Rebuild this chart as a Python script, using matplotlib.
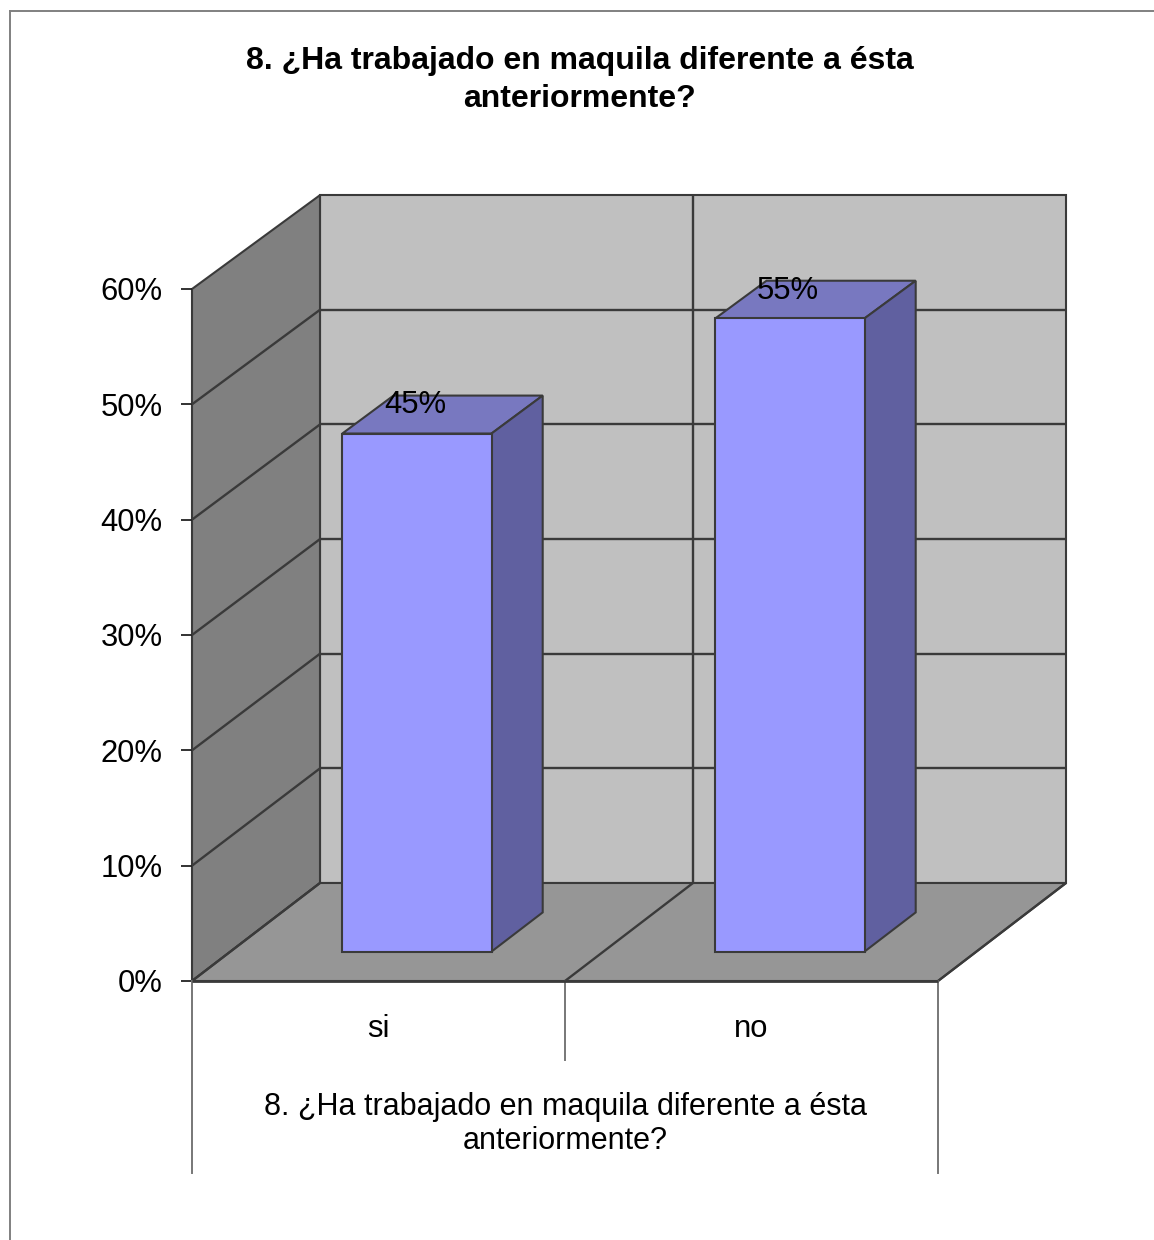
import matplotlib
matplotlib.use("Agg")
import matplotlib.pyplot as plt
from matplotlib.lines import Line2D
from matplotlib.patches import Polygon

plt.rcParams['font.family'] = ['Liberation Sans', 'DejaVu Sans']

# Data
categories = ['si', 'no']
values = [45, 55]
value_labels = ['45%', '55%']
y_ticks = [0, 10, 20, 30, 40, 50, 60]
y_tick_labels = ['0%', '10%', '20%', '30%', '40%', '50%', '60%']
title = '8. ¿Ha trabajado en maquila diferente a ésta\nanteriormente?'
group_label = '8. ¿Ha trabajado en maquila diferente a ésta\nanteriormente?'

W, H = 1154, 1240
DPI = 100

# Oblique projection: depth 1 moves this far in category / percent units
DEPTH_X = 128 / 373
DEPTH_Y = 98 / 11.533
# heights shrink a little towards the back wall
DEPTH_SHRINK = 0.006
Y_MAX = 60

BACK_WALL = '#c0c0c0'
SIDE_WALL = '#808080'
FLOOR = '#969696'
BAR_FRONT = '#9999ff'
BAR_TOP = '#7878c0'
BAR_SIDE = '#6060a0'
LINE = '#3a3a3a'


def proj(x, y, d=0.0):
    return x + d * DEPTH_X, y * (1 - DEPTH_SHRINK * d) + d * DEPTH_Y


def face(ax, pts, color, zorder=1):
    ax.add_patch(Polygon([proj(*p) for p in pts], closed=True, facecolor=color,
                         edgecolor=LINE, linewidth=1.5, clip_on=False, zorder=zorder))


def seg(ax, p0, p1, zorder=2, color=LINE, lw=1.7):
    a, b = proj(*p0), proj(*p1)
    ax.plot([a[0], b[0]], [a[1], b[1]], color=color, lw=lw, clip_on=False,
            solid_capstyle='butt', zorder=zorder)


def draw_bar(ax, center, value, width=0.4, d0=0.3, d1=0.7):
    x0, x1 = center - width / 2, center + width / 2
    face(ax, [(x0, value, d0), (x1, value, d0), (x1, value, d1), (x0, value, d1)], BAR_TOP, 4)
    face(ax, [(x1, 0, d0), (x1, 0, d1), (x1, value, d1), (x1, value, d0)], BAR_SIDE, 4)
    face(ax, [(x0, 0, d0), (x1, 0, d0), (x1, value, d0), (x0, value, d0)], BAR_FRONT, 5)


fig = plt.figure(figsize=(W / DPI, H / DPI), dpi=DPI, facecolor='white')
ax = fig.add_axes([192 / W, 1 - 981 / H, (938 - 192) / W, (981 - 289) / H])
ax.set_xlim(0, len(categories))
ax.set_ylim(0, Y_MAX)
ax.patch.set_alpha(0)
for s in ax.spines.values():
    s.set_visible(False)
ax.set_xticks([])
ax.set_yticks(y_ticks, y_tick_labels)
ax.tick_params(axis='y', length=8, width=1.3, color='#222222', labelsize=22.3, pad=13)

n = len(categories)
# walls and floor
face(ax, [(0, 0, 1), (n, 0, 1), (n, Y_MAX, 1), (0, Y_MAX, 1)], BACK_WALL)
face(ax, [(0, 0, 0), (0, 0, 1), (0, Y_MAX, 1), (0, Y_MAX, 0)], SIDE_WALL)
face(ax, [(0, 0, 0), (n, 0, 0), (n, 0, 1), (0, 0, 1)], FLOOR)

# gridlines run along the side wall and the back wall
for t in y_ticks[1:-1]:
    seg(ax, (0, t, 0), (0, t, 1))
    seg(ax, (0, t, 1), (n, t, 1))
seg(ax, (0, 0, 0), (0, 0, 1))
seg(ax, (n, 0, 0), (n, 0, 1))
seg(ax, (0, 0, 0), (n, 0, 0), lw=2.0, zorder=6)
for i in range(1, n):
    seg(ax, (i, 0, 0), (i, 0, 1))
    seg(ax, (i, 0, 1), (i, Y_MAX, 1))

for i, v in enumerate(values):
    draw_bar(ax, i + 0.5, v)
    lx, _ = proj(i + 0.5, v, 0.3)
    _, ly = proj(i + 0.5, v, 0.7)
    ax.text(lx - 0.005, ly - 0.85, value_labels[i], ha='center', va='center', fontsize=22.3,
            color='black', zorder=7, clip_on=False)

# multi-level category table below the floor
to_y = lambda py: (981 - py) / 11.533
for x, bottom in [(0, 1173), (1, 1060), (2, 1173)]:
    ax.plot([x, x], [0, to_y(bottom)], color='#777777', lw=1.4, clip_on=False, zorder=2)
for i, c in enumerate(categories):
    ax.text(i + 0.5, to_y(1029), c, ha='center', va='center', fontsize=22.3, clip_on=False)
ax.text(1, to_y(1124), group_label, ha='center', va='center', fontsize=22,
        linespacing=1.18, clip_on=False)

fig.text(580 / W, 1 - 80 / H, title, ha='center', va='center', fontsize=23,
         fontweight='bold', linespacing=1.32)

# chart area border, left and top only
fig.add_artist(Line2D([9.5 / W, 9.5 / W], [0, 1 - 11 / H], color='#808080', lw=1.4))
fig.add_artist(Line2D([9.5 / W, 1], [1 - 11 / H, 1 - 11 / H], color='#808080', lw=1.4))

fig.savefig('out.png', dpi=DPI)
